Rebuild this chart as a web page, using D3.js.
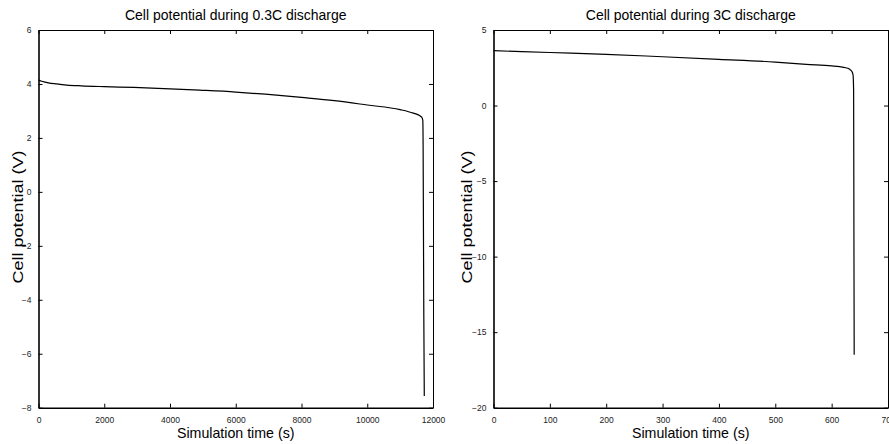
<!DOCTYPE html>
<html><head><meta charset="utf-8">
<script src="https://cdn.jsdelivr.net/npm/d3@7"></script>
<style>body{margin:0;background:#fff}svg{display:block}</style>
</head><body>
<svg id="chart" width="889" height="444"></svg>
<script>
// 0.3C discharge
const lowTime    = [0, 100, 300, 550, 860, 1300, 2000, 2900, 4000, 4900, 6000, 6900, 8000, 9000, 10000, 11000, 11400, 11600, 11660, 11690, 11700, 11710, 11720, 11735];
const lowVoltage = [4.14, 4.10, 4.04, 4.00, 3.96, 3.93, 3.90, 3.87, 3.82, 3.77, 3.70, 3.62, 3.50, 3.38, 3.22, 3.05, 2.92, 2.82, 2.76, 2.65, 1.6, -1.5, -4.5, -7.57];
// 3C discharge
const highTime    = [0, 100, 200, 300, 400, 500, 555, 600, 614, 625, 632, 636, 638, 639, 639.5, 640];
const highVoltage = [3.63, 3.51, 3.39, 3.23, 3.06, 2.88, 2.73, 2.62, 2.57, 2.50, 2.40, 2.25, 2.02, 1.0, -8, -16.5];

const lowXTicks  = [0, 2000, 4000, 6000, 8000, 10000, 12000];
const lowYTicks  = [-8, -6, -4, -2, 0, 2, 4, 6];
const highXTicks = [0, 100, 200, 300, 400, 500, 600, 700];
const highYTicks = [-20, -15, -10, -5, 0, 5];

const titles = ["Cell potential during 0.3C discharge", "Cell potential during 3C discharge"];
const xLabel = "Simulation time (s)";
const yLabel = "Cell potential (V)";

const svg = d3.select("#chart");
const FONT = "'Liberation Sans', Arial, Helvetica, sans-serif";

function panel(opts) {
  const {left, right, top, bottom, xDomain, yDomain, xTicks, yTicks, t, v, title, yLabelX} = opts;
  const x = d3.scaleLinear().domain(xDomain).range([left, right]);
  const y = d3.scaleLinear().domain(yDomain).range([bottom, top]);
  const g = svg.append("g");
  const fmt = d3.format("d");

  // data line
  const line = d3.line().curve(d3.curveMonotoneX).x((d, i) => x(t[i])).y(d => y(d));
  g.append("path").datum(v).attr("d", line)
    .attr("fill", "none").attr("stroke", "#000").attr("stroke-width", 1.2)
    .attr("stroke-linejoin", "round");

  // axes
  const axB = g.append("g").attr("transform", `translate(0,${bottom})`)
    .call(d3.axisBottom(x).tickValues(xTicks).tickSizeInner(-4).tickSizeOuter(0).tickPadding(9).tickFormat(fmt));
  const axT = g.append("g").attr("transform", `translate(0,${top})`)
    .call(d3.axisTop(x).tickValues(xTicks).tickSizeInner(-4).tickSizeOuter(0).tickFormat(""));
  const axL = g.append("g").attr("transform", `translate(${left},0)`)
    .call(d3.axisLeft(y).tickValues(yTicks).tickSizeInner(-4).tickSizeOuter(0).tickPadding(7).tickFormat(fmt));
  const axR = g.append("g").attr("transform", `translate(${right},0)`)
    .call(d3.axisRight(y).tickValues(yTicks).tickSizeInner(-4).tickSizeOuter(0).tickFormat(""));

  [axB, axT, axL, axR].forEach(a => {
    a.selectAll("text").attr("font-family", FONT).attr("font-size", 8.5).attr("fill", "#222");
    a.selectAll(".tick line").attr("stroke", "#000").attr("stroke-width", 1);
  });
  axB.select(".domain").attr("stroke", "#000").attr("stroke-width", 1.6);
  axL.select(".domain").attr("stroke", "#000").attr("stroke-width", 1.6);
  axT.select(".domain").attr("stroke", "#000").attr("stroke-width", 1);
  axR.select(".domain").attr("stroke", "#000").attr("stroke-width", 1);

  // title (slightly stretched vertically like the reference)
  g.append("text").attr("transform", `translate(${(left + right) / 2},20) scale(1,1.1)`)
    .attr("text-anchor", "middle").attr("font-family", FONT).attr("font-size", 14)
    .attr("fill", "#000").text(title);
  // x label
  g.append("text").attr("x", (left + right) / 2).attr("y", 437.5)
    .attr("text-anchor", "middle").attr("font-family", FONT).attr("font-size", 14.2)
    .attr("fill", "#000").text(xLabel);
  // y label (stretched along its length)
  g.append("text").attr("transform", `translate(${yLabelX},217) rotate(-90)`)
    .attr("text-anchor", "middle").attr("font-family", FONT).attr("font-size", 14.2)
    .attr("textLength", 133).attr("lengthAdjust", "spacingAndGlyphs")
    .attr("fill", "#000").text(yLabel);
}

panel({left: 38.5, right: 433, top: 30, bottom: 407.7, xDomain: [0, 12000], yDomain: [-8, 6],
  xTicks: lowXTicks, yTicks: lowYTicks, t: lowTime, v: lowVoltage, title: titles[0], yLabelX: 23});
panel({left: 493.5, right: 888, top: 30, bottom: 407.7, xDomain: [0, 700], yDomain: [-20, 5],
  xTicks: highXTicks, yTicks: highYTicks, t: highTime, v: highVoltage, title: titles[1], yLabelX: 472});
</script>
</body></html>
